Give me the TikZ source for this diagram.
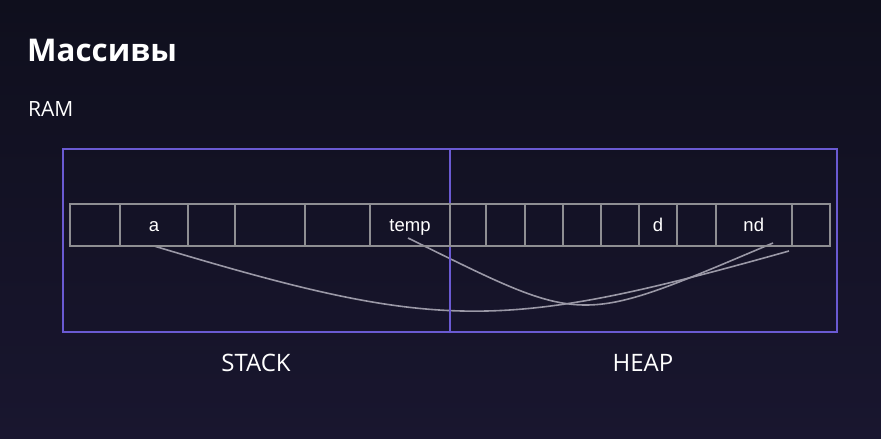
\documentclass[tikz,border=0pt]{standalone}
\usepackage{fontspec}
\setmainfont{Open Sans}
\newfontfamily\cellfont{Liberation Sans}
\usetikzlibrary{backgrounds}

\definecolor{bgtop}{HTML}{0F0F1D}
\definecolor{bgbottom}{HTML}{19162F}
\definecolor{ramline}{HTML}{6A5AD2}
\definecolor{cellline}{HTML}{8E8E92}
\definecolor{ptrline}{HTML}{9A98A6}

\begin{document}
\begin{tikzpicture}[x=1pt,y=-1pt]
        \tikzstyle{cell} = [rectangle, draw=cellline, line width=2pt, inner sep=0pt, minimum height=42.5pt, text=white, font=\cellfont\fontsize{18.5}{18.5}\selectfont, text height=13.5pt, text depth=0pt]
        \tikzstyle{pointer} = [draw=ptrline, line width=1.6pt]
        \tikzstyle{part} = [draw=ramline, line width=2pt]
        \tikzstyle{caption} = [text=white, inner sep=0pt, font=\fontsize{24}{24}\selectfont]

        \useasboundingbox (0,0) rectangle (881,439);
        \shade[top color=bgtop, bottom color=bgbottom] (0,0) rectangle (881,439);

        \node (title) [anchor=base west, inner sep=0pt, text=white, font=\bfseries\fontsize{31.3}{31.3}\selectfont] at (27,61) {Массивы};
        \node (ram) [anchor=base west, inner sep=0pt, text=white, font=\fontsize{21}{21}\selectfont] at (28,116) {RAM};

        % pointers
        \coordinate (aptr) at (154,246);
        \coordinate (aend) at (789,251);
        \coordinate (tempptr) at (408,238);
        \coordinate (tempend) at (773,243);
        \draw [pointer] (aptr) .. controls (440,332) and (500,332) .. (aend);
        \draw [pointer] (tempptr) .. controls (588,326.5) and (575,326.5) .. (tempend);

        % stack and heap
        \node (stack) [part, rectangle, inner sep=0pt, minimum width=387.5pt, minimum height=183pt] at (256.25,240) {};
        \node (heap) [part, rectangle, inner sep=0pt, minimum width=387pt, minimum height=183pt] at (643.5,240) {};

        \foreach \l/\r/\t [count=\i] in {70/120/{}, 120/188/a, 188/235/{}, 235/305/{}, 305/370/{}, 370/450/temp, 450/486/{}, 486/524.5/{}, 524.5/563/{}, 563/601/{}, 601/639/{}, 639/677/d, 677/715.5/{}, 715.5/792/nd, 792/830/{}}
            \node (c\i) [cell, minimum width=\r-\l] at ({(\l+\r)/2},224.75) {\t};

        \node (stacklabel) [caption, anchor=base] at (256,371.5) {STACK};
        \node (heaplabel) [caption, anchor=base] at (643,371.5) {HEAP};
    \end{tikzpicture}
\end{document}
